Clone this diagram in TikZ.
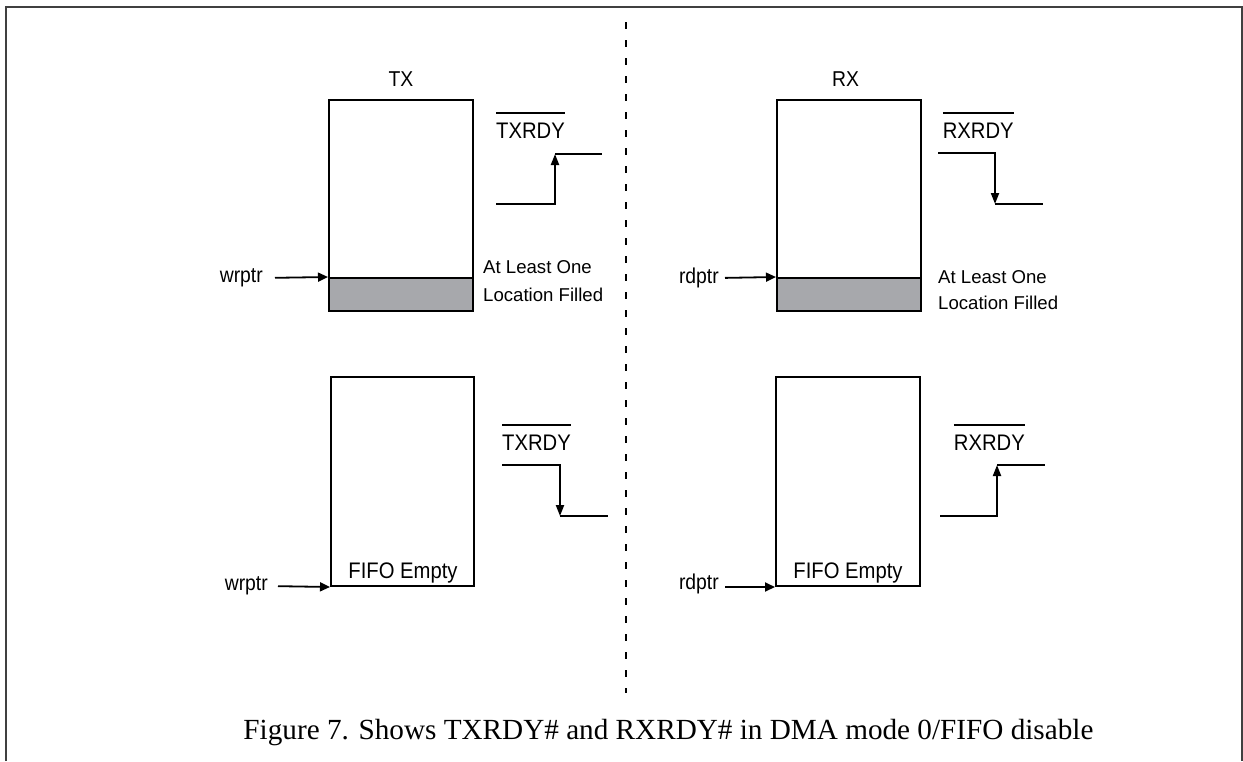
\documentclass[tikz,border=0pt]{standalone}
\usepackage{fontspec}
\setmainfont{Liberation Serif}
\newfontfamily\labsf{Liberation Sans}
\newfontfamily\labsfn[FakeStretch=0.9]{Liberation Sans}
\usetikzlibrary{arrows.meta}
\newcommand{\barred}[1]{\vbox{\hrule height 1.3pt \kern 9pt \hbox{#1}}}
\begin{document}
\begin{tikzpicture}[x=1pt,y=-1pt,
  fifo/.style={draw, line width=2pt, minimum width=144pt, minimum height=211pt, inner sep=0pt},
  filled/.style={draw, line width=2pt, fill=fillgray, minimum width=144pt, minimum height=33pt, inner sep=0pt, anchor=south},
  lbl/.style={font=\labsfn\fontsize{21.5}{25}\selectfont, inner sep=0pt},
  biglbl/.style={font=\labsfn\fontsize{22.5}{27}\selectfont, inner sep=0pt},
  note/.style={font=\labsf\fontsize{18.6}{22}\selectfont, inner sep=0pt, anchor=base west},
  ptr/.style={line width=1.8pt, -{Triangle[length=10pt,width=9pt]}},
  wave/.style={line width=2pt},
  edge/.style={line width=2pt, -{Triangle[length=11pt,width=8pt]}}
]
\definecolor{fillgray}{RGB}{167,168,172}
\useasboundingbox (0,0) rectangle (1243,761);
% frame
\draw[line width=1.3pt, black!75] (6,761) -- (6,7) -- (1242,7) -- (1242,761);
% divider
\draw[line width=1.6pt, dash pattern=on 7pt off 11pt] (626,22) -- (626,693);

% ---------- TX upper ----------
\node[lbl] (txlab) at (401,79) {TX};
\node[fifo] (txA) at (401,205.5) {};
\node[filled] (txAf) at (txA.south) {};
\node[lbl, anchor=east] (wrA) at (263,278) {wrptr};
\draw[ptr, shorten <=12pt] (wrA.east) -- (txAf.north west);
\node[biglbl, anchor=base west] (txrdyA) at (496,138) {\barred{TXRDY}};
\coordinate (tA1) at (496,204);
\coordinate (tA2) at (555,204);
\coordinate (tA3) at (555,154);
\coordinate (tA4) at (602,154);
\draw[edge] (tA1) -- (tA2) -- (tA3);
\draw[wave] (tA3) -- (tA4);
\node[note] (txnote1) at (483,273) {At Least One};
\node[note] (txnote2) at (483,301.5) {Location Filled};

% ---------- TX lower ----------
\node[fifo, minimum width=143pt, minimum height=209pt] (txB) at (402.5,481.5) {};
\node[biglbl, anchor=base] (txemp) at (403,578) {FIFO Empty};
\node[lbl, anchor=east] (wrB) at (268,586) {wrptr};
\draw[ptr, shorten <=10pt] (wrB.east) -- (txB.south west);
\node[biglbl, anchor=base west] (txrdyB) at (502,450) {\barred{TXRDY}};
\coordinate (tB1) at (502,465);
\coordinate (tB2) at (560,465);
\coordinate (tB3) at (560,516);
\coordinate (tB4) at (608,516);
\draw[edge] (tB1) -- (tB2) -- (tB3);
\draw[wave] (tB3) -- (tB4);

% ---------- RX upper ----------
\node[lbl] (rxlab) at (845.5,79) {RX};
\node[fifo] (rxA) at (849,205.5) {};
\node[filled] (rxAf) at (rxA.south) {};
\node[lbl, anchor=east] (rdA) at (719,278) {rdptr};
\draw[ptr, shorten <=6pt] (rdA.east) -- (rxAf.north west);
\node[biglbl, anchor=base west] (rxrdyA) at (942.6,138) {\barred{RXRDY}};
\coordinate (rA1) at (938,153);
\coordinate (rA2) at (995,153);
\coordinate (rA3) at (995,204);
\coordinate (rA4) at (1043,204);
\draw[edge] (rA1) -- (rA2) -- (rA3);
\draw[wave] (rA3) -- (rA4);
\node[note] (rxnote1) at (938,283) {At Least One};
\node[note] (rxnote2) at (938,309) {Location Filled};

% ---------- RX lower ----------
\node[fifo, minimum height=209pt] (rxB) at (848,481.5) {};
\node[biglbl, anchor=base] (rxemp) at (848,578) {FIFO Empty};
\node[lbl, anchor=east] (rdB) at (719,584) {rdptr};
\draw[ptr, shorten <=6pt] (rdB.east |- rxB.south west) -- (rxB.south west);
\node[biglbl, anchor=base west] (rxrdyB) at (953.7,450) {\barred{RXRDY}};
\coordinate (rB1) at (940,516);
\coordinate (rB2) at (997,516);
\coordinate (rB3) at (997,465);
\coordinate (rB4) at (1045,465);
\draw[edge] (rB1) -- (rB2) -- (rB3);
\draw[wave] (rB3) -- (rB4);

% caption
\node[font=\fontsize{29.2}{34}\selectfont, inner sep=0pt, anchor=base] (cap) at (668.5,739) {Figure 7. Shows TXRDY\# and RXRDY\# in DMA mode 0/FIFO disable};
\end{tikzpicture}
\end{document}
